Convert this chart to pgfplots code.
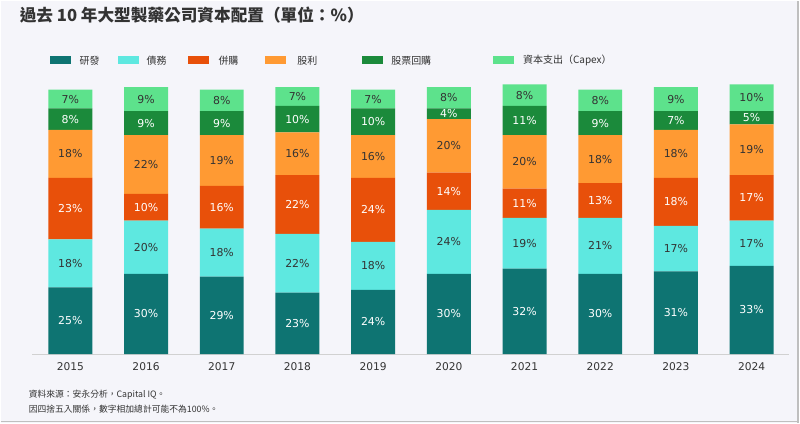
\documentclass[border=0pt]{standalone}
\usepackage{fontspec}
\setmainfont{DejaVu Sans}
\newfontfamily\cjk{Noto Sans CJK TC}
\usepackage{pgfplots}
\pgfplotsset{compat=1.18}
\usepackage{pgfplotstable}
\definecolor{bgc}{HTML}{F5F5FA}
\definecolor{cRD}{HTML}{0E7472}
\definecolor{cDebt}{HTML}{5EE8E0}
\definecolor{cMA}{HTML}{E8500A}
\definecolor{cDiv}{HTML}{FF9A33}
\definecolor{cBuy}{HTML}{1B8A3B}
\definecolor{cCap}{HTML}{5DE28C}
\definecolor{txt}{HTML}{333333}
\pgfplotstableread{
x year rd debt ma div buy capex
0 2015 25 18 23 18 8 7
1 2016 30 20 10 22 9 9
2 2017 29 18 16 19 9 8
3 2018 23 22 22 16 10 7
4 2019 24 18 24 16 10 7
5 2020 30 24 14 20 4 8
6 2021 32 19 11 20 11 8
7 2022 30 21 13 18 9 8
8 2023 31 17 18 18 7 9
9 2024 33 17 17 19 5 10
}\data
\pgfplotsset{
  base/.style={
    at={(24pt,51.75pt)}, anchor=south west,
    scale only axis, width=568.5pt, height=200.5pt,
    xmin=-0.5, xmax=9.5, ymin=0, ymax=100, clip=false,
    /pgf/number format/assume math mode=true,
  },
  lab/.style={draw=none, mark=none, point meta=explicit,
    nodes near coords={\pgfmathprintnumber{\pgfplotspointmeta}\%},
    every node near coord/.append style={anchor=center, text=#1, font=\fontsize{8.2}{9}\selectfont}},
}
\begin{document}
\begin{tikzpicture}[x=0.75pt,y=0.75pt]
\fill[bgc] (0,0) rectangle (800,423);
\draw[black!25, line width=0.8pt] (0,1.5) -- (800,1.5);
\draw[black!25, line width=0.8pt] (798.5,0) -- (798.5,423);
\begin{axis}[base, ybar stacked, bar width=33pt,
  axis y line=none, axis x line*=bottom,
  x axis line style={draw=black!18, line width=0.8pt, -},
  xtick=data, xticklabels from table={\data}{year}, major tick length=0pt,
  xticklabel style={font=\fontsize{8}{9}\selectfont, text=txt, yshift=-3pt},
  ]
\addplot[fill=cRD, draw=none] table[x=x,y=rd]{\data};
\addplot[fill=cDebt, draw=none] table[x=x,y=debt]{\data};
\addplot[fill=cMA, draw=none] table[x=x,y=ma]{\data};
\addplot[fill=cDiv, draw=none] table[x=x,y=div]{\data};
\addplot[fill=cBuy, draw=none] table[x=x,y=buy]{\data};
\addplot[fill=cCap, draw=none] table[x=x,y=capex]{\data};
\end{axis}
\begin{axis}[base, hide axis]
\addplot[lab=white] table[x=x, y expr=\thisrow{rd}/2, meta=rd]{\data};
\addplot[lab=txt] table[x=x, y expr=\thisrow{rd}+\thisrow{debt}/2, meta=debt]{\data};
\addplot[lab=white] table[x=x, y expr=\thisrow{rd}+\thisrow{debt}+\thisrow{ma}/2, meta=ma]{\data};
\addplot[lab=txt] table[x=x, y expr=\thisrow{rd}+\thisrow{debt}+\thisrow{ma}+\thisrow{div}/2, meta=div]{\data};
\addplot[lab=white] table[x=x, y expr=\thisrow{rd}+\thisrow{debt}+\thisrow{ma}+\thisrow{div}+\thisrow{buy}/2, meta=buy]{\data};
\addplot[lab=txt] table[x=x, y expr=\thisrow{rd}+\thisrow{debt}+\thisrow{ma}+\thisrow{div}+\thisrow{buy}+\thisrow{capex}/2, meta=capex]{\data};
\end{axis}
% title
\node[anchor=west, inner sep=0, text=txt, font=\cjk\bfseries\fontsize{12.5}{14}\selectfont] at (19,408) {過去 10 年大型製藥公司資本配置（單位：\%）};
% legend
\foreach \c/\a/\t/\lab in {cRD/50/79/研發, cDebt/118/146/債務, cMA/188/218/併購, cDiv/265/297/股利, cBuy/362/391/股票回購, cCap/493/523/資本支出（Capex）}{
  \fill[\c] (\a,359) rectangle (\a+21,367);
  \node[anchor=west, inner sep=0, text=txt, font=\cjk\fontsize{7.5}{9}\selectfont] at (\t,363) {\lab};
}
% footnote
\node[anchor=west, inner sep=0, text=txt, font=\cjk\fontsize{6.6}{8}\selectfont] at (28,28) {資料來源：安永分析，Capital IQ。};
\node[anchor=west, inner sep=0, text=txt, font=\cjk\fontsize{6.6}{8}\selectfont] at (28,14) {因四捨五入關係，數字相加總計可能不為100\%。};
\end{tikzpicture}
\end{document}
